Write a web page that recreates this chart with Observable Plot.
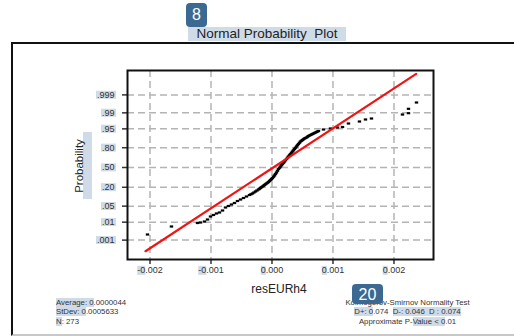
<!DOCTYPE html>
<html>
<head>
<meta charset="utf-8">
<script src="https://cdn.jsdelivr.net/npm/d3@7"></script>
<script src="https://cdn.jsdelivr.net/npm/@observablehq/plot@0.6"></script>
<style>
  html, body { margin: 0; padding: 0; overflow: hidden; background: #fff; }
  #wrap { position: relative; width: 514px; height: 336px; font-family: "Liberation Sans", Arial, sans-serif; color: #222; }
  .abs { position: absolute; }
  .hl { background: #cfdbe7; }
  .badge { position: absolute; background: #3b6992; color: #fff; border-radius: 4px; text-align: center; font-family: "Liberation Sans", Arial, sans-serif; }
</style>
</head>
<body>
<div id="wrap">
  <div class="abs" style="left:11px;top:42px;width:520px;height:290px;border-top:2px solid #111;border-left:2px solid #111;border-bottom:2px solid #c8c8c8;"></div>
</div>
<script>
// ---- data ----
const resid = [-0.002041,-0.001648,
  -0.001221,-0.001172,-0.001107,-0.001057,-0.001008,-0.000959,-0.000910,-0.000861,-0.000811,-0.000762,
  -0.000713,-0.000664,-0.000615,-0.000566,-0.000516,-0.000467,-0.000418,-0.000369,-0.000320,-0.000270,
  -0.000221,-0.000189,-0.000156,-0.000123,-0.000090,-0.000057,-0.000025,0.000008,0.000041,0.000074,
  0.000107,0.000139,0.000172,0.000205,0.000238,0.000270,0.000303,0.000336,0.000369,0.000402,
  0.000434,0.000467,0.000500,0.000533,0.000566,0.000598,0.000631,0.000664,0.000697,0.000730,
  0.000762,
  -0.000344,-0.000295,-0.000246,-0.000205,-0.000172,-0.000139,-0.000107,-0.000074,-0.000041,-0.000008,
  0.000025,0.000057,0.000090,0.000123,0.000156,0.000189,0.000221,0.000254,0.000287,0.000320,
  0.000352,0.000385,0.000418,0.000451,0.000484,0.000516,0.000549,0.000582,0.000615,0.000648,
  0.000680,0.000713,0.000746,
  0.000844,0.000959,0.001074,0.001156,0.001254,0.001434,0.001533,0.001631,0.002139,0.002238,0.002238,0.002369];
const normalScore = [-2.851,-2.511,
  -2.362,-2.340,-2.298,-2.213,-2.085,-2.021,-1.957,-1.915,-1.830,-1.702,
  -1.638,-1.574,-1.511,-1.426,-1.362,-1.298,-1.234,-1.170,-1.106,-1.021,
  -0.936,-0.872,-0.809,-0.745,-0.681,-0.617,-0.532,-0.447,-0.340,-0.213,
  -0.064,0.043,0.149,0.255,0.362,0.468,0.574,0.681,0.787,0.894,
  1.000,1.106,1.170,1.234,1.277,1.340,1.383,1.426,1.468,1.511,
  1.553,
  -1.138,-1.064,-0.979,-0.904,-0.840,-0.777,-0.713,-0.649,-0.574,-0.489,
  -0.394,-0.277,-0.138,-0.011,0.096,0.202,0.309,0.415,0.521,0.628,
  0.734,0.840,0.947,1.053,1.138,1.202,1.255,1.309,1.362,1.404,
  1.447,1.489,1.532,
  1.617,1.660,1.702,1.723,1.872,1.957,2.043,2.085,2.255,2.311,2.498,2.766];
const fitX = [-0.002074, 0.002364];
const fitZ = [-3.562, 3.987];
const xTicks = [-0.002, -0.001, 0, 0.001, 0.002];
const probTicks = [0.001, 0.01, 0.05, 0.20, 0.50, 0.80, 0.95, 0.99, 0.999];
const probLabels = [".001", ".01", ".05", ".20", ".50", ".80", ".95", ".99", ".999"];

// inverse standard normal CDF (for probability axis positions)
function probit(p) {
  const a=[-3.969683028665376e+01,2.209460984245205e+02,-2.759285104469687e+02,1.383577518672690e+02,-3.066479806614716e+01,2.506628277459239e+00];
  const b=[-5.447609879822406e+01,1.615858368580409e+02,-1.556989798598866e+02,6.680131188771972e+01,-1.328068155288572e+01];
  const c=[-7.784894002430293e-03,-3.223964580411365e-01,-2.400758277161838e+00,-2.549732539343734e+00,4.374664141464968e+00,2.938163982698783e+00];
  const d=[7.784695709041462e-03,3.224671290700398e-01,2.445134137142996e+00,3.754408661907416e+00];
  const pl = 0.02425, ph = 1 - pl;
  let q, r;
  if (p < pl) { q = Math.sqrt(-2*Math.log(p)); return (((((c[0]*q+c[1])*q+c[2])*q+c[3])*q+c[4])*q+c[5])/((((d[0]*q+d[1])*q+d[2])*q+d[3])*q+1); }
  if (p <= ph) { q = p-0.5; r = q*q; return (((((a[0]*r+a[1])*r+a[2])*r+a[3])*r+a[4])*r+a[5])*q/(((((b[0]*r+b[1])*r+b[2])*r+b[3])*r+b[4])*r+1); }
  q = Math.sqrt(-2*Math.log(1-p)); return -(((((c[0]*q+c[1])*q+c[2])*q+c[3])*q+c[4])*q+c[5])/((((d[0]*q+d[1])*q+d[2])*q+d[3])*q+1);
}

const points = resid.map((r, i) => ({resid: r, z: normalScore[i]}));
const fit = fitX.map((x, i) => ({resid: x, z: fitZ[i]}));
const yTickZ = probTicks.map(probit);
const labelByZ = new Map(yTickZ.map((z, i) => [z, probLabels[i]]));

const dash = { draw(ctx) { ctx.rect(-1.7, -1.1, 3.4, 2.2); } };

const chart = Plot.plot({
  width: 514, height: 336,
  marginLeft: 127, marginRight: 81, marginTop: 70, marginBottom: 77,
  style: { background: "transparent", fontFamily: "'Liberation Sans', Arial, sans-serif", fontSize: "9px", color: "#222", overflow: "visible" },
  x: { domain: [-0.002369, 0.002648] },
  y: { domain: [-3.915, 4.128] },
  marks: [
    Plot.gridX(xTicks, { stroke: "#b4b4b4", strokeOpacity: 1, strokeWidth: 1.5, strokeDasharray: "7,4" }),
    Plot.gridY(yTickZ, { stroke: "#b4b4b4", strokeOpacity: 1, strokeWidth: 1.5, strokeDasharray: "7,4" }),
    Plot.axisX({ ticks: xTicks, tickFormat: d => d.toFixed(3), tickSize: 5, tickPadding: 2, fontSize: 9, label: null, strokeWidth: 1.5, color: "#333" }),
    Plot.axisY({ ticks: yTickZ, tickFormat: d => labelByZ.get(d), tickSize: 5, tickPadding: 8, fontSize: 9, label: null, strokeWidth: 1.5, color: "#333" }),
    Plot.dot(points, { x: "resid", y: "z", symbol: dash, fill: "#000", stroke: "none" }),
    Plot.line(fit, { x: "resid", y: "z", stroke: "#f01414", strokeWidth: 2.2 }),
    Plot.frame({ stroke: "#111", strokeWidth: 2 })
  ]
});
chart.style.position = "absolute";
chart.style.left = "0px";
chart.style.top = "0px";
const wrap = document.getElementById("wrap");
wrap.appendChild(chart);

// highlight boxes behind tick labels
const NS = "http://www.w3.org/2000/svg";
function hlRect(t, bb) {
  const r = document.createElementNS(NS, "rect");
  r.setAttribute("x", bb.x); r.setAttribute("y", bb.y);
  r.setAttribute("width", bb.width); r.setAttribute("height", bb.height);
  r.setAttribute("fill", "#cfdbe7");
  const tr = t.getAttribute("transform"); if (tr) r.setAttribute("transform", tr);
  t.parentNode.insertBefore(r, t);
}
chart.querySelectorAll('g[aria-label="y-axis tick label"] text').forEach(t => {
  const bb = t.getBBox();
  hlRect(t, {x: bb.x - 1, y: bb.y + 1, width: bb.width + 2.5, height: bb.height - 2});
});
chart.querySelectorAll('g[aria-label="x-axis tick label"] text').forEach(t => {
  const bb = t.getBBox();
  const n = t.textContent.startsWith("-") ? 2 : 1;
  let w = 6;
  try { w = t.getSubStringLength(0, n); } catch (e) {}
  hlRect(t, {x: bb.x, y: bb.y + 1, width: w, height: bb.height - 1});
});

// overlays: title, axis titles, statistics, badges
const html = `
  <div class="badge" style="left:186px;top:3px;width:21px;height:24px;line-height:24px;font-size:16px;">8</div>
  <div class="abs hl" style="left:188px;top:27px;width:158px;height:14px;line-height:14px;text-align:center;font-size:13.5px;color:#222;white-space:pre;">Normal Probability  Plot</div>
  <div class="abs hl" style="left:83px;top:132px;width:9px;height:67px;"></div>
  <div class="abs" style="left:79px;top:166px;transform:translate(-50%,-50%) rotate(-90deg);font-size:11.5px;color:#222;white-space:nowrap;">Probability</div>
  <div class="abs" style="left:229px;top:282px;width:100px;text-align:center;font-size:12px;color:#222;">resEURh4</div>
  <div class="abs" style="left:56px;top:298px;font-size:7.8px;line-height:9.3px;color:#333;white-space:pre;"><span class="hl">Average: 0</span>.0000044<br><span class="hl">StDev: 0</span>.0005633<br><span class="hl">N</span>: 273</div>
  <div class="abs" style="left:330px;top:298px;width:155px;text-align:center;font-size:7.8px;line-height:9.3px;color:#333;white-space:pre;">Kolmogorov-Smirnov Normality Test<br><span class="hl">D+: 0</span>.074  <span class="hl">D-: 0.046  D : 0.074</span><br>Approximate P-<span class="hl">Value &lt; 0</span>.01</div>
  <div class="badge" style="left:352px;top:284px;width:31px;height:20px;line-height:21px;font-size:16px;">20</div>
`;
wrap.insertAdjacentHTML("beforeend", html);
</script>
</body>
</html>
